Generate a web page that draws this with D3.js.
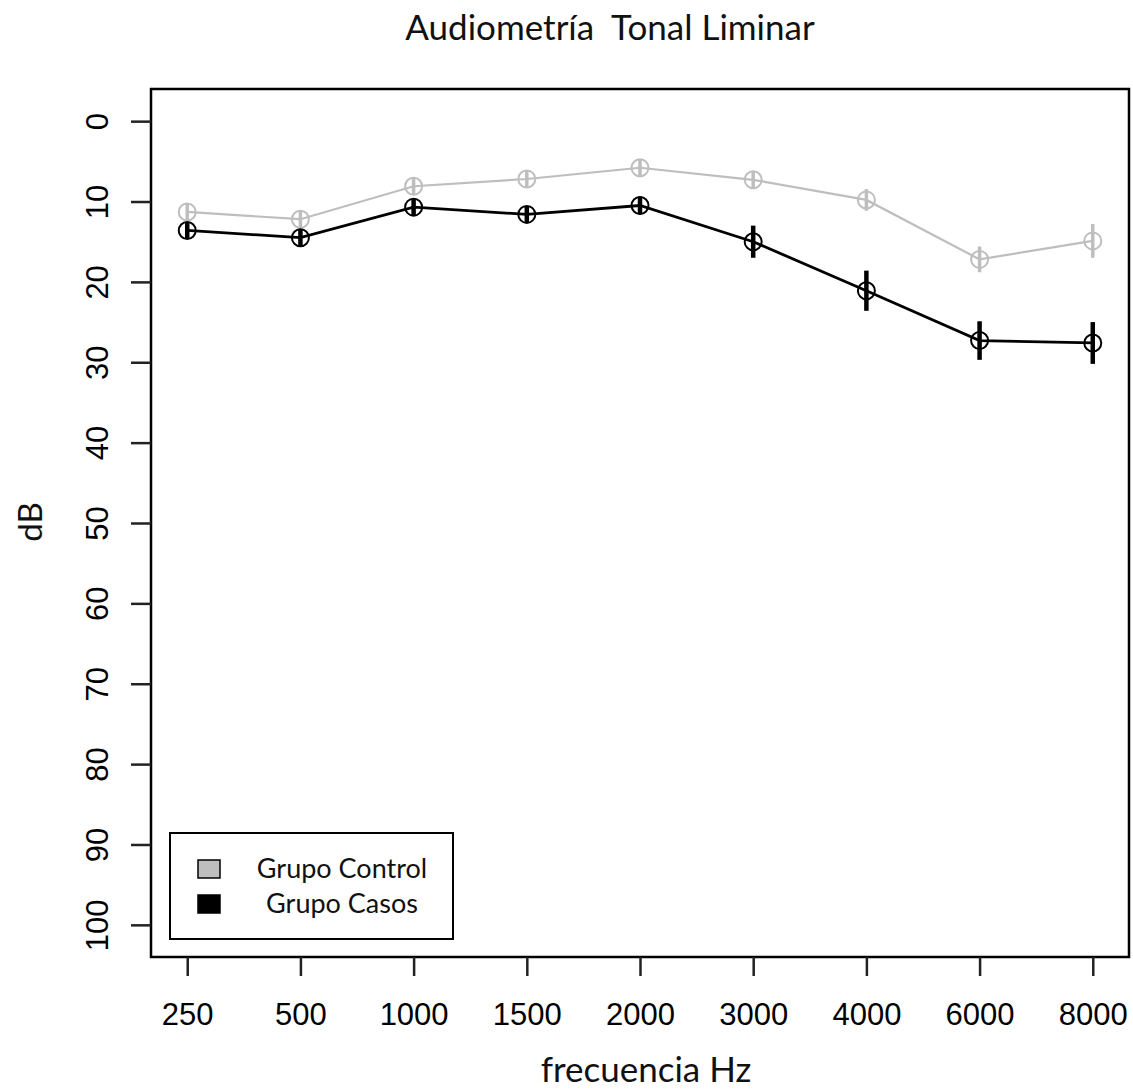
<!DOCTYPE html>
<html>
<head>
<meta charset="UTF-8">
<title>Audiometría Tonal Liminar</title>
<script src="https://d3js.org/d3.v7.min.js"></script>
<style>
  body { margin: 0; background: #fff; }
  .tick-label { font: 31px "Liberation Sans", Arial, sans-serif; fill: #000; }
  .title, .axis-title, .legend-text { font-family: Lato, "Open Sans", sans-serif; fill: #111; white-space: pre; }
</style>
</head>
<body>
<script>
// frequencies (categorical x axis)
var freqs = ["250", "500", "1000", "1500", "2000", "3000", "4000", "6000", "8000"];
// mean thresholds in dB
var control = [11.3, 12.2, 8.1, 7.2, 5.8, 7.3, 9.8, 17.2, 14.9];
var controlErr = [1.0, 1.1, 1.0, 1.0, 1.0, 1.1, 1.35, 1.6, 2.1];
var casos = [13.6, 14.5, 10.7, 11.6, 10.5, 15.0, 21.1, 27.3, 27.6];
var casosErr = [1.0, 1.1, 1.0, 1.0, 1.1, 2.0, 2.5, 2.4, 2.6];
var yTicks = [0, 10, 20, 30, 40, 50, 60, 70, 80, 90, 100];

var series = [
  {name: "Grupo Control", values: control, err: controlErr, color: "#bebebe", lw: 2.2, ew: 3.5},
  {name: "Grupo Casos", values: casos, err: casosErr, color: "#000", lw: 2.8, ew: 4.5}
];

var W = 1133, H = 1090;
var box = {left: 151, right: 1129, top: 89, bottom: 957};

var svg = d3.select("body").append("svg")
    .attr("width", W)
    .attr("height", H);

// index-based x like R's plot with 4% padding
var x = d3.scaleLinear().domain([0.68, 9.32]).range([box.left, box.right]);
var y = d3.scaleLinear().domain([-4, 104]).range([box.top, box.bottom]);

// plot frame
svg.append("rect")
    .attr("x", box.left).attr("y", box.top)
    .attr("width", box.right - box.left).attr("height", box.bottom - box.top)
    .attr("fill", "none").attr("stroke", "#000").attr("stroke-width", 2.5);

// x axis
var xAxis = d3.axisBottom(x)
    .tickValues(d3.range(1, freqs.length + 1))
    .tickFormat(function (d) { return freqs[d - 1]; })
    .tickSize(19).tickSizeOuter(0);

var gx = svg.append("g")
    .attr("transform", "translate(0," + box.bottom + ")")
    .call(xAxis);
gx.select(".domain").remove();
gx.selectAll("line").attr("stroke", "#222").attr("stroke-width", 2.5);
gx.selectAll("text").attr("class", "tick-label").attr("dy", null).attr("y", 68);

// y axis (rotated labels, R style)
var yAxis = d3.axisLeft(y)
    .tickValues(yTicks)
    .tickSize(20).tickSizeOuter(0);

var gy = svg.append("g")
    .attr("transform", "translate(" + box.left + ",0)")
    .call(yAxis);
gy.select(".domain").remove();
gy.selectAll("line").attr("stroke", "#222").attr("stroke-width", 2.5);
gy.selectAll("text")
    .attr("class", "tick-label")
    .attr("x", null).attr("dy", null)
    .attr("text-anchor", "middle")
    .attr("transform", "translate(-43,0) rotate(-90)");

// lines, error bars and open circles
var line = d3.line()
    .x(function (d, i) { return x(i + 1); })
    .y(function (d) { return y(d); });

series.forEach(function (s) {
  var g = svg.append("g");
  g.append("path")
      .datum(s.values)
      .attr("d", line)
      .attr("fill", "none")
      .attr("stroke", s.color)
      .attr("stroke-width", s.lw);

  g.selectAll(".err")
      .data(s.values)
      .enter().append("line")
      .attr("x1", function (d, i) { return x(i + 1); })
      .attr("x2", function (d, i) { return x(i + 1); })
      .attr("y1", function (d, i) { return y(d - s.err[i]); })
      .attr("y2", function (d, i) { return y(d + s.err[i]); })
      .attr("stroke", s.color)
      .attr("stroke-width", s.ew);

  g.selectAll("circle")
      .data(s.values)
      .enter().append("circle")
      .attr("cx", function (d, i) { return x(i + 1); })
      .attr("cy", function (d) { return y(d); })
      .attr("r", 8.5)
      .attr("fill", "none")
      .attr("stroke", s.color)
      .attr("stroke-width", 2);
});

// titles
svg.append("text")
    .attr("class", "title")
    .attr("x", 610).attr("y", 40)
    .attr("text-anchor", "middle")
    .style("font-size", "35px")
    .text("Audiometría  Tonal Liminar");

svg.append("text")
    .attr("class", "axis-title")
    .attr("x", 646).attr("y", 1082)
    .attr("text-anchor", "middle")
    .style("font-size", "35px")
    .text("frecuencia Hz");

svg.append("text")
    .attr("class", "axis-title")
    .attr("text-anchor", "middle")
    .attr("transform", "translate(42,522) rotate(-90)")
    .style("font-size", "33px")
    .text("dB");

// legend
var leg = svg.append("g");
leg.append("rect")
    .attr("x", 170).attr("y", 833)
    .attr("width", 283).attr("height", 106)
    .attr("fill", "#fff").attr("stroke", "#000").attr("stroke-width", 2);

series.forEach(function (s, i) {
  var cy = 869 + i * 35;
  leg.append("rect")
      .attr("x", 198).attr("y", cy - 9)
      .attr("width", 22).attr("height", 18)
      .attr("fill", s.color).attr("stroke", "#000").attr("stroke-width", 1.5);
  leg.append("text")
      .attr("class", "legend-text")
      .attr("x", 342).attr("y", cy + 9)
      .attr("text-anchor", "middle")
      .style("font-size", "27px")
      .text(s.name);
});
</script>
</body>
</html>
